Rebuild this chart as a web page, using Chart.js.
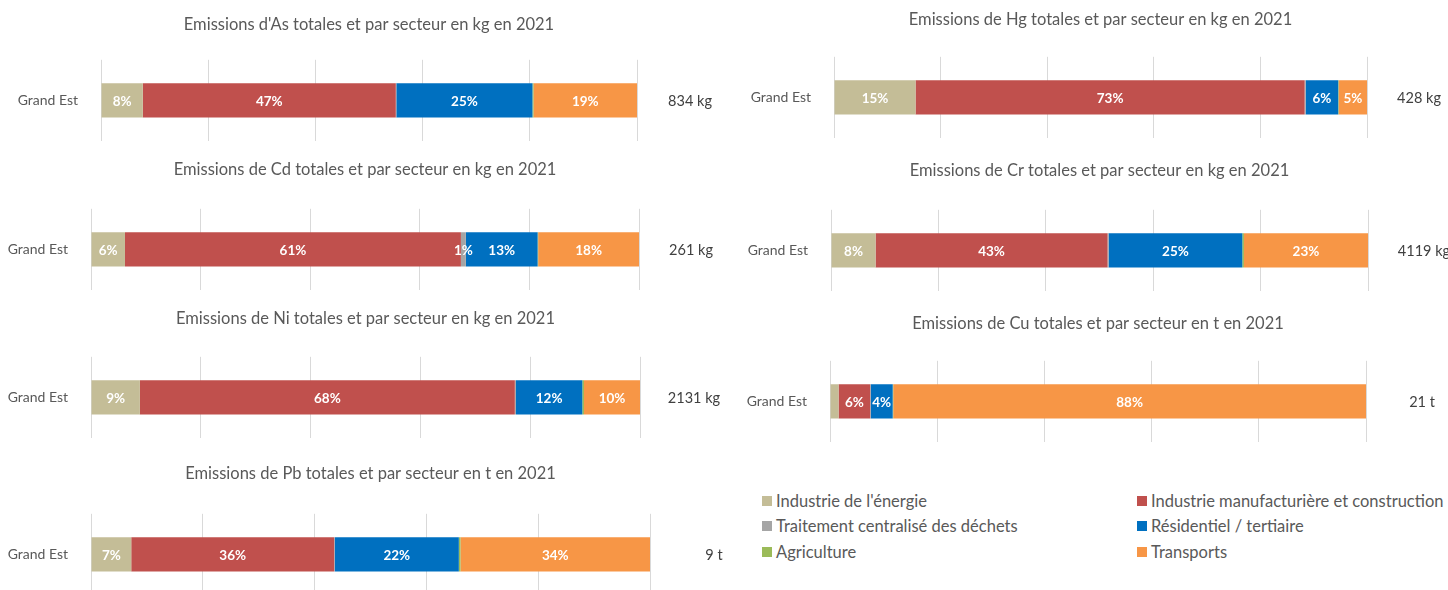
<!DOCTYPE html>
<html lang="fr">
<head>
<meta charset="utf-8">
<title>Emissions de métaux lourds en Grand Est, 2021</title>
<script src="https://cdn.jsdelivr.net/npm/chart.js@4/dist/chart.umd.min.js"></script>
<style>
  body { margin: 0; background: #fff; width: 1448px; height: 590px; position: relative; overflow: hidden; font-family: Lato, "Open Sans", sans-serif; }
  canvas { position: absolute; }
  #legend { position: absolute; left: 762px; top: 488px; display: grid; grid-template-rows: repeat(3, 25.5px); grid-auto-flow: column; grid-template-columns: 375px 310px; font-size: 16.5px; color: #595959; }
  .item { display: flex; align-items: center; white-space: nowrap; }
  .item span { width: 10px; height: 10px; margin-right: 4px; display: inline-block; }
</style>
</head>
<body>
<canvas id="chartAs" width="724" height="136" style="left:0;top:5px"></canvas>
<canvas id="chartCd" width="724" height="136" style="left:0;top:150px"></canvas>
<canvas id="chartNi" width="724" height="136" style="left:0;top:299px"></canvas>
<canvas id="chartPb" width="724" height="136" style="left:0;top:454px"></canvas>
<canvas id="chartHg" width="724" height="136" style="left:724px;top:0"></canvas>
<canvas id="chartCr" width="724" height="136" style="left:724px;top:151px"></canvas>
<canvas id="chartCu" width="724" height="136" style="left:724px;top:304px"></canvas>
<div id="legend"></div>
<script>
const sectors = ["Industrie de l'énergie", "Industrie manufacturière et construction", "Traitement centralisé des déchets", "Résidentiel / tertiaire", "Agriculture", "Transports"];
const sectorColors = ["#c4bd97", "#c0504d", "#a5a5a5", "#0070c0", "#9bbb59", "#f79646"];
const category = ["Grand Est"];

// parts (%) par secteur, dans l'ordre de sectors
const asShares = [7.8, 47.2, 0.1, 25.4, 0.2, 19.3];
const cdShares = [6.2, 61.3, 0.9, 13.1, 0.1, 18.4];
const niShares = [8.9, 68.3, 0.2, 12.1, 0.3, 10.2];
const pbShares = [7.2, 36.3, 0.1, 22.2, 0.3, 33.9];
const hgShares = [15.3, 73.0, 0.2, 6.1, 0.1, 5.3];
const crShares = [8.3, 43.2, 0.2, 24.9, 0.3, 23.1];
const cuShares = [1.6, 5.9, 0.1, 4.1, 0.1, 88.2];

const asTotal = "834 kg";
const cdTotal = "261 kg";
const niTotal = "2131 kg";
const pbTotal = "9 t";
const hgTotal = "428 kg";
const crTotal = "4119 kg";
const cuTotal = "21 t";

const xTicks = [0, 20, 40, 60, 80, 100];

const FONT = "Lato";

// legend
const legendEl = document.getElementById("legend");
[0, 2, 4, 1, 3, 5].forEach(i => {
  const d = document.createElement("div");
  d.className = "item";
  d.innerHTML = '<span style="background:' + sectorColors[i] + '"></span>' + sectors[i];
  legendEl.appendChild(d);
});

// percentage labels inside the segments
const segmentLabels = {
  id: "segmentLabels",
  afterDatasetsDraw(chart) {
    const ctx = chart.ctx;
    const hide = chart.options.plugins.segmentLabels.hide || [];
    ctx.save();
    ctx.font = "bold 13.5px " + FONT;
    ctx.fillStyle = "#fff";
    ctx.textAlign = "center";
    ctx.textBaseline = "middle";
    chart.data.datasets.forEach((ds, i) => {
      const v = ds.data[0];
      if (Math.round(v) < 1 || hide.includes(i)) return;
      const bar = chart.getDatasetMeta(i).data[0];
      ctx.fillText(Math.round(v) + "%", (bar.x + bar.base) / 2, bar.y + 1);
    });
    ctx.restore();
  }
};

// total at the right of the bar
const totalLabel = {
  id: "totalLabel",
  afterDraw(chart) {
    const o = chart.options.plugins.totalLabel;
    const ctx = chart.ctx;
    const bar = chart.getDatasetMeta(0).data[0];
    ctx.save();
    ctx.font = "14.5px " + FONT;
    ctx.fillStyle = "#404040";
    ctx.textAlign = "center";
    ctx.textBaseline = "middle";
    ctx.fillText(o.text, chart.chartArea.right + o.offset, bar.y + 1);
    ctx.restore();
  }
};

function makeChart(id, title, shares, total, axisW, padRight, offset, gap, hide) {
  const canvas = document.getElementById(id);
  canvas.height = Math.round(111 + gap);
  new Chart(canvas, {
    type: "bar",
    data: {
      labels: category,
      datasets: sectors.map((s, i) => ({
        label: s,
        data: [shares[i]],
        backgroundColor: sectorColors[i],
        borderWidth: 0,
        categoryPercentage: 1,
        barPercentage: 0.42,
      })),
    },
    options: {
      indexAxis: "y",
      responsive: false,
      animation: false,
      layout: { autoPadding: false, padding: { left: 0, right: padRight, top: 0, bottom: 0 } },
      scales: {
        x: {
          stacked: true,
          min: xTicks[0],
          max: xTicks[xTicks.length - 1],
          afterBuildTicks: (s) => { s.ticks = xTicks.map(v => ({ value: v })); },
          afterFit: (s) => { s.height = 0; },
          ticks: { display: false },
          grid: { color: "#d9d9d9", drawTicks: false },
          border: { display: false },
        },
        y: {
          stacked: true,
          grid: { display: false },
          border: { display: false },
          ticks: { color: "#595959", font: { family: FONT, size: 14 }, padding: 15 },
          afterFit: (s) => { s.width = axisW; s.paddingTop = 0; s.paddingBottom = 0; },
        },
      },
      plugins: {
        legend: { display: false },
        tooltip: { enabled: false },
        title: {
          display: true,
          fullSize: false,
          text: title,
          color: "#595959",
          font: { family: FONT, size: 16.5, weight: "normal" },
          padding: { top: 10, bottom: gap },
        },
        segmentLabels: { hide: hide || [] },
        totalLabel: { text: total, offset: offset },
      },
    },
    plugins: [segmentLabels, totalLabel],
  });
}

makeChart("chartAs", "Emissions d'As totales et par secteur en kg en 2021", asShares, asTotal, 101, 87, 53, 25);
makeChart("chartCd", "Emissions de Cd totales et par secteur en kg en 2021", cdShares, cdTotal, 91, 85, 52, 29);
makeChart("chartNi", "Emissions de Ni totales et par secteur en kg en 2021", niShares, niTotal, 91, 84, 54, 28);
makeChart("chartPb", "Emissions de Pb totales et par secteur en t en 2021", pbShares, pbTotal, 91, 74, 64, 30);
makeChart("chartHg", "Emissions de Hg totales et par secteur en kg en 2021", hgShares, hgTotal, 110, 81, 52, 27);
makeChart("chartCr", "Emissions de Cr totales et par secteur en kg en 2021", crShares, crTotal, 107, 80, 56, 29);
makeChart("chartCu", "Emissions de Cu totales et par secteur en t en 2021", cuShares, cuTotal, 106, 82, 56, 27, [0]);
</script>
</body>
</html>
